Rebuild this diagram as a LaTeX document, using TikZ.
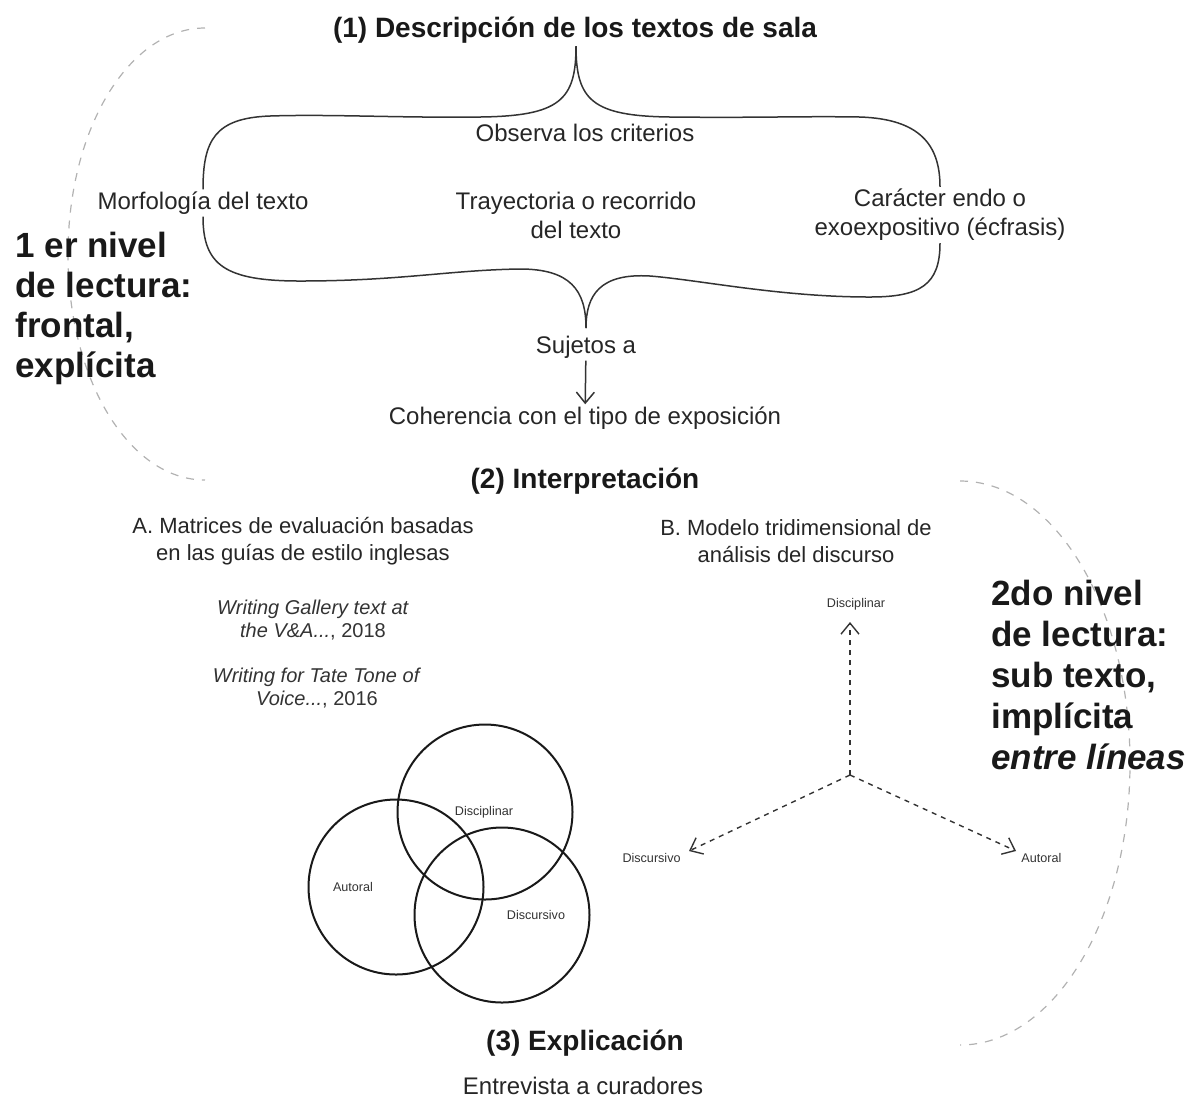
\documentclass[tikz,border=0pt]{standalone}
\usepackage{fontspec}
\setmainfont{Liberation Sans}
\usetikzlibrary{arrows.meta}

\tikzset{
  texto/.style={align=center, font=\fontsize{12}{14.5}\selectfont, text=black!85, inner sep=1pt},
  textob/.style={texto, font=\fontsize{11}{13.5}\selectfont},
  titulo/.style={font=\bfseries\fontsize{14}{17}\selectfont, text=black!90, inner sep=1pt},
  nivel/.style={align=left, font=\bfseries\fontsize{17.5}{20}\selectfont, text=black!90, inner sep=0pt},
  guia/.style={align=center, font=\fontsize{10}{11.5}\selectfont, text=black!80, inner sep=1pt},
  chico/.style={font=\fontsize{6.3}{7}\selectfont, text=black!80, inner sep=1pt},
  llave/.style={draw=black!80, line width=0.75pt},
  arco/.style={draw=black!30, line width=0.6pt, dash pattern=on 4pt off 4pt},
  eje/.style={draw=black!80, line width=0.7pt, dash pattern=on 2.5pt off 2.5pt},
  anillo/.style={draw=black!90, line width=1pt}
}

\begin{document}
\begin{tikzpicture}[x=0.5pt, y=-0.5pt, >={Straight Barb[length=5.5pt, width=9pt]}]
    \useasboundingbox (0,0) rectangle (1193,1100);

    % niveles de lectura
    \draw[arco] (205,28) .. controls (129,28) and (68,129) .. (68,254)
        .. controls (68,379) and (129,480) .. (205,480);
    \draw[arco] (960,481) .. controls (1054,481) and (1130,607) .. (1130,763)
        .. controls (1130,919) and (1054,1045) .. (960,1045);
    \node[nivel, anchor=north west] (n1) at (15,232) {1 er nivel\\de lectura:\\frontal,\\explícita};
    \node[nivel, anchor=north west, font=\bfseries\fontsize{17.5}{20.5}\selectfont] (n2) at (991,580) {2do nivel\\de lectura:\\sub texto,\\implícita\\\textit{entre líneas}};

    % (1) descripción
    \node[titulo] (t1) at (575,30) {(1) Descripción de los textos de sala};
    \coordinate (ctop) at (576,46);
    \coordinate (cbot) at (586,328);
    \node[texto] (obs) at (585,133) {Observa los criterios};
    \node[texto] (morf) at (203,203) {Morfología del texto};
    \node[texto] (tray) at (576,215) {Trayectoria o recorrido\\del texto};
    \node[texto] (car) at (940,215) {Carácter endo o\\exoexpositivo (écfrasis)};
    \node[texto] (suj) at (586,347) {Sujetos a};
    \node[texto] (coh) at (585,418) {Coherencia con el tipo de exposición};

    \draw[llave] (ctop) .. controls (576,100) and (560,116) .. (480,117)
        .. controls (400,118) and (330,114) .. (270,116)
        .. controls (215,118) and (203,140) .. (morf.north);
    \draw[llave] (morf.south) .. controls (203,265) and (225,281) .. (300,281)
        .. controls (400,281) and (450,270) .. (520,269)
        .. controls (570,269) and (586,290) .. (cbot);
    \draw[llave] (ctop) .. controls (576,100) and (592,116) .. (670,117)
        .. controls (760,118) and (800,116) .. (860,117)
        .. controls (920,119) and (940,145) .. (car.north);
    \draw[llave] (car.south) .. controls (940,285) and (920,297) .. (870,297)
        .. controls (780,297) and (700,280) .. (650,276)
        .. controls (600,273) and (586,295) .. (cbot);
    \draw[llave, ->] (suj) -- (coh);

    % (2) interpretación
    \node[titulo] (t2) at (585,481) {(2) Interpretación};
    \node[textob] (ma) at (303,541) {A. Matrices de evaluación basadas\\en las guías de estilo inglesas};
    \node[textob] (mb) at (796,541) {B. Modelo tridimensional de\\análisis del discurso};
    \node[guia] (g1) at (313,620) {\textit{Writing Gallery text at}\\\textit{the V\&A...}, 2018};
    \node[guia] (g2) at (317,688) {\textit{Writing for Tate Tone of}\\\textit{Voice...}, 2016};

    \foreach \cx/\cy/\lx/\lab [count=\i] in {485/812/484/Disciplinar, 396/887/353/Autoral, 502/915/536/Discursivo} {
        \draw[anillo] (\cx,\cy) circle[radius=87.5];
        \node[chico] (v\i) at (\lx,\cy) {\lab};
    }

    \coordinate (o) at (850,775);
    \node[chico] (eD) at (856,604) {Disciplinar};
    \node[chico, anchor=east] (eL) at (683,858) {Discursivo};
    \node[chico, anchor=west] (eA) at (1019,858) {Autoral};
    \foreach \p/\x/\y in {pD/850/622, pL/689/851, pA/1016/851} {
        \coordinate (\p) at (\x,\y);
        \draw[eje, ->] (o) -- (\p);
    }

    % (3) explicación
    \node[titulo] (t3) at (585,1043) {(3) Explicación};
    \node[texto] (ent) at (583,1086) {Entrevista a curadores};

\end{tikzpicture}
\end{document}
